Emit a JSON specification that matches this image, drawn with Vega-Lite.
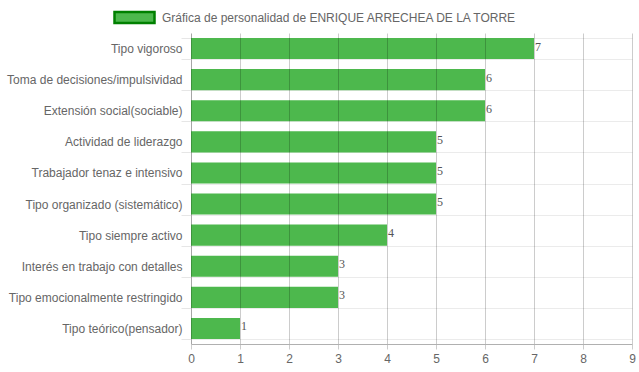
{
  "$schema": "https://vega.github.io/schema/vega-lite/v6.json",
  "width": 441,
  "height": 311,
  "autosize": {"type": "none"},
  "padding": {"left": 191, "top": 33, "right": 7, "bottom": 28},
  "background": "white",
  "config": {
    "view": {"stroke": null},
    "font": "Liberation Sans",
    "axis": {"labelFont": "Liberation Sans", "labelFontSize": 12, "labelColor": "#666666", "title": null}
  },
  "data": {
    "values": [
      {"rasgo": "Tipo vigoroso", "valor": 7, "serie": "Gráfica de personalidad de ENRIQUE ARRECHEA DE LA TORRE"},
      {"rasgo": "Toma de decisiones/impulsividad", "valor": 6, "serie": "Gráfica de personalidad de ENRIQUE ARRECHEA DE LA TORRE"},
      {"rasgo": "Extensión social(sociable)", "valor": 6, "serie": "Gráfica de personalidad de ENRIQUE ARRECHEA DE LA TORRE"},
      {"rasgo": "Actividad de liderazgo", "valor": 5, "serie": "Gráfica de personalidad de ENRIQUE ARRECHEA DE LA TORRE"},
      {"rasgo": "Trabajador tenaz e intensivo", "valor": 5, "serie": "Gráfica de personalidad de ENRIQUE ARRECHEA DE LA TORRE"},
      {"rasgo": "Tipo organizado (sistemático)", "valor": 5, "serie": "Gráfica de personalidad de ENRIQUE ARRECHEA DE LA TORRE"},
      {"rasgo": "Tipo siempre activo", "valor": 4, "serie": "Gráfica de personalidad de ENRIQUE ARRECHEA DE LA TORRE"},
      {"rasgo": "Interés en trabajo con detalles", "valor": 3, "serie": "Gráfica de personalidad de ENRIQUE ARRECHEA DE LA TORRE"},
      {"rasgo": "Tipo emocionalmente restringido", "valor": 3, "serie": "Gráfica de personalidad de ENRIQUE ARRECHEA DE LA TORRE"},
      {"rasgo": "Tipo teórico(pensador)", "valor": 1, "serie": "Gráfica de personalidad de ENRIQUE ARRECHEA DE LA TORRE"}
    ]
  },
  "encoding": {
    "y": {
      "field": "rasgo", "type": "nominal", "sort": null,
      "scale": {"paddingInner": 0.32, "paddingOuter": 0.16},
      "axis": {
        "tickBand": "extent", "tickSize": 10, "tickColor": "#e6e6e6",
        "grid": true, "gridColor": "#ebebeb", "gridWidth": 1,
        "domain": true, "domainColor": "#d0d0d0", "labelPadding": -1
      }
    },
    "x": {
      "field": "valor", "type": "quantitative",
      "scale": {"domain": [0, 9], "nice": false},
      "axis": {
        "values": [0,1,2,3,4,5,6,7,8,9], "grid": true, "gridColor": "#000000", "gridOpacity": 0.2,
        "tickColor": "#cccccc", "tickSize": 5, "labelPadding": 4, "zindex": 1,
        "domainColor": "#b0b0b0", "labelFlush": false
      }
    }
  },
  "layer": [
    {
      "mark": {"type": "bar", "fill": "#4db84d", "strokeWidth": 0},
      "encoding": {
        "stroke": {
          "field": "serie", "type": "nominal",
          "scale": {"range": ["#008000"]},
          "legend": {
            "orient": "none", "legendX": -78, "legendY": -37, "title": null,
            "symbolType": "M-1,-0.28L1,-0.28L1,0.28L-1,0.28Z", "symbolSize": 1600,
            "symbolStrokeWidth": 2.5, "symbolFillColor": "#4db84d",
            "symbolOpacity": 1, "labelFontSize": 12, "labelColor": "#666666",
            "labelFont": "Liberation Sans", "labelOffset": 6, "labelLimit": 600
          }
        }
      }
    },
    {
      "mark": {"type": "text", "align": "left", "baseline": "middle", "dx": 1, "dy": -2, "font": "Liberation Serif", "fontSize": 12, "color": "#555555"},
      "encoding": {"text": {"field": "valor", "type": "quantitative"}}
    }
  ]
}
